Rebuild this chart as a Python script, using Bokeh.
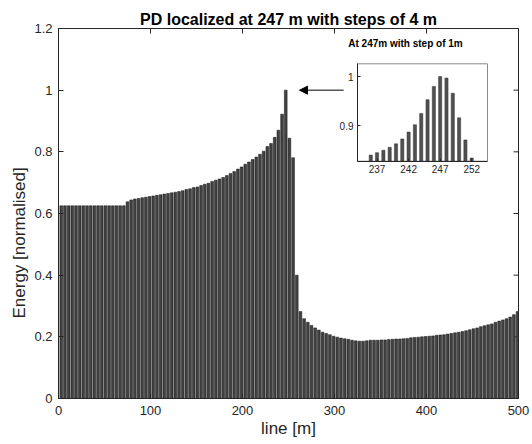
import math
from bokeh.plotting import figure
from bokeh.models import Range1d, LinearAxis, FixedTicker, Arrow, NormalHead, Title
from bokeh.core.properties import value
from bokeh.embed import file_html
from bokeh.resources import INLINE

# ---------------- data ----------------
line_m = list(range(3, 500, 4))  # bar positions, step 4 m
energy = [
    0.625, 0.625, 0.625, 0.625, 0.625, 0.625, 0.625, 0.625, 0.625, 0.625,
    0.625, 0.625, 0.625, 0.625, 0.625, 0.625, 0.625, 0.625,
    0.638, 0.644, 0.647, 0.649, 0.651, 0.653, 0.655, 0.657, 0.659, 0.661,
    0.663, 0.665,
    0.667, 0.669, 0.671, 0.674, 0.678, 0.680, 0.684, 0.686, 0.691, 0.695,
    0.698, 0.704, 0.708, 0.712, 0.717, 0.723, 0.730, 0.736, 0.744, 0.751,
    0.760, 0.767, 0.775, 0.783, 0.792, 0.802, 0.817, 0.827, 0.847, 0.870,
    0.922, 1.000, 0.844, 0.781, 0.400,
    0.282, 0.259, 0.247, 0.237, 0.229, 0.222, 0.215, 0.211, 0.207, 0.202,
    0.199, 0.196,
    0.194, 0.192, 0.189, 0.187, 0.186, 0.186, 0.187, 0.189, 0.189, 0.189,
    0.190, 0.190, 0.191, 0.192, 0.193, 0.193, 0.194, 0.195, 0.197, 0.198,
    0.199, 0.200, 0.201, 0.202, 0.203, 0.205, 0.206, 0.207, 0.209, 0.211,
    0.213, 0.215, 0.217, 0.220, 0.223, 0.226, 0.229, 0.233, 0.236, 0.239,
    0.242, 0.247, 0.251, 0.255, 0.259, 0.264, 0.272, 0.282,
]

inset_m = list(range(236, 253))
inset_energy = [0.840, 0.845, 0.850, 0.856, 0.863, 0.873, 0.887, 0.902, 0.925,
                0.953, 0.980, 1.000, 0.997, 0.966, 0.916, 0.871, 0.834]

x_ticks = [0, 100, 200, 300, 400, 500]
x_tick_labels = ["0", "100", "200", "300", "400", "500"]
y_ticks = [0, 0.2, 0.4, 0.6, 0.8, 1.0, 1.2]
y_tick_labels = ["0", "0.2", "0.4", "0.6", "0.8", "1", "1.2"]
inset_x_ticks = [237, 242, 247, 252]
inset_x_labels = ["237", "242", "247", "252"]
inset_y_ticks = [0.9, 1.0]
inset_y_labels = ["0.9", "1"]

title_text = "PD localized at 247 m with steps of 4 m"
inset_title = "At 247m with step of 1m"
x_label = "line [m]"
y_label = "Energy [normalised]"

# ---------------- layout ----------------
W, H = 532, 444
FL, FR, FT, FB = 58, 518, 28, 398          # main frame (pixels)
IL, IR, IT, IB = 357, 487, 63.3, 160.7     # inset frame (pixels)
ix0, ix1 = 233.9, 254.5                    # inset x range
iy0, iy1 = 0.8276, 1.026                   # inset y range
X0, X1, Y0, Y1 = 0, 500, 0, 1.2
YLAB_START = 318                           # pixel row where the y label text begins

FONT = "Liberation Sans"
DARK = "#262626"

p = figure(width=W, height=H, x_range=Range1d(X0, X1), y_range=Range1d(Y0, Y1),
           output_backend="svg", toolbar_location=None,
           min_border_left=FL, min_border_right=W - FR,
           min_border_top=FT, min_border_bottom=H - FB)
p.grid.visible = False
p.outline_line_color = DARK
p.background_fill_color = "white"
p.border_fill_color = "white"

p.title.text = title_text
p.title.align = "center"
p.title.text_font = FONT
p.title.text_font_size = "16px"
p.title.text_font_style = "bold"
p.title.text_color = "black"
p.title.standoff = 2


def style_axis(ax, ticks, labels, size="13px", tick_in=5):
    ax.ticker = FixedTicker(ticks=ticks)
    ax.major_label_overrides = {t: l for t, l in zip(ticks, labels)}
    ax.major_tick_in = tick_in
    ax.major_tick_out = 0
    ax.minor_tick_line_color = None
    ax.axis_line_color = DARK
    ax.major_tick_line_color = DARK
    ax.major_label_text_font = FONT
    ax.major_label_text_font_size = size
    ax.major_label_text_color = DARK


style_axis(p.xaxis[0], x_ticks, x_tick_labels)
style_axis(p.yaxis[0], y_ticks, y_tick_labels)
p.xaxis[0].axis_label = x_label
p.xaxis[0].axis_label_text_font = FONT
p.xaxis[0].axis_label_text_font_size = "17px"
p.xaxis[0].axis_label_text_font_style = "normal"
p.xaxis[0].axis_label_text_color = DARK
p.xaxis[0].major_label_standoff = 7
p.xaxis[0].axis_label_standoff = 1
p.yaxis[0].major_label_standoff = 6

# y-axis label as a left-side title, shifted a little below the frame centre
p.add_layout(Title(text=y_label, align="left", offset=FB - YLAB_START,
                   text_font=FONT, text_font_size="17px", text_font_style="normal",
                   text_color=DARK, standoff=5), "left")

# box ticks on top / right (inward), drawn as short rays
p.ray(x=x_ticks, y=[Y1] * len(x_ticks), length=5, length_units="screen",
      angle=-math.pi / 2, line_color=DARK, line_width=1)
p.ray(x=[X1] * len(y_ticks), y=y_ticks, length=5, length_units="screen",
      angle=math.pi, line_color=DARK, line_width=1)

# main bars
p.vbar(x=line_m, top=energy, bottom=0, width=3.0,
       fill_color="#424242", line_color="#151515", line_width=0.5)

# arrow pointing at the peak
peak_i = energy.index(max(energy))
peak_x, peak_y = line_m[peak_i], energy[peak_i]
p.add_layout(Arrow(end=NormalHead(size=8, fill_color="black", line_color="black"),
                   x_start=peak_x + 63, y_start=peak_y, x_end=peak_x + 15, y_end=peak_y,
                   line_color="black", line_width=1))

# ---------------- inset (via extra ranges) ----------------
sx = (IR - IL) / (ix1 - ix0)
sy = (IB - IT) / (iy1 - iy0)
p.extra_x_ranges = {"ix": Range1d(ix0 - (IL - FL) / sx, ix0 + (FR - IL) / sx)}
p.extra_y_ranges = {"iy": Range1d(iy0 - (FB - IB) / sy, iy0 + (IB - FT) / sy)}

p.quad(left=[ix0], right=[ix1], bottom=[iy0], top=[iy1],
       x_range_name="ix", y_range_name="iy",
       fill_color="white", line_color="#8a8a8a", line_width=1)
p.vbar(x=inset_m, top=inset_energy, bottom=iy0, width=0.5,
       x_range_name="ix", y_range_name="iy",
       fill_color="#505050", line_color="#303030", line_width=0.5)

iax = LinearAxis(x_range_name="ix", y_range_name="iy", fixed_location=iy0, bounds=(ix0, ix1))
style_axis(iax, inset_x_ticks, inset_x_labels, size="10px", tick_in=3)
iax.major_label_standoff = 4
p.add_layout(iax, "below")

iay = LinearAxis(x_range_name="ix", y_range_name="iy", fixed_location=ix0, bounds=(iy0, iy1))
style_axis(iay, inset_y_ticks, inset_y_labels, size="10px", tick_in=3)
iay.major_label_standoff = 4
p.add_layout(iay, "left")

p.text(x=[ix0 + (405 - IL) / sx], y=[iy1 + 20 / sy], text=[inset_title],
       x_range_name="ix", y_range_name="iy",
       text_font=value(FONT), text_font_style=value("bold"), text_font_size=value("10px"),
       text_align="center", text_baseline="middle", text_color="black")

open("out.html", "w").write(file_html(p, INLINE))
